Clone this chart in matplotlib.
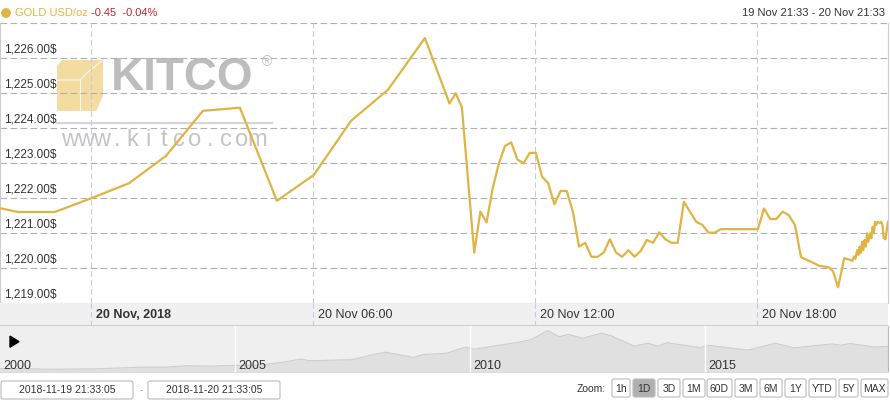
import matplotlib
matplotlib.use('Agg')
import matplotlib.pyplot as plt
from matplotlib.patches import FancyBboxPatch, Polygon, Circle
import pandas as pd

plt.rcParams['font.family'] = ['Liberation Sans', 'DejaVu Sans']

# gold price, 19 Nov 21:33 -> 20 Nov 21:33 (USD/oz)
times = ['2018-11-19 21:33', '2018-11-19 22:02', '2018-11-19 23:02',
         '2018-11-20 00:02', '2018-11-20 01:02', '2018-11-20 02:02', '2018-11-20 03:02',
         '2018-11-20 04:02', '2018-11-20 05:02', '2018-11-20 06:02', '2018-11-20 07:02',
         '2018-11-20 08:02', '2018-11-20 09:02', '2018-11-20 09:42', '2018-11-20 09:52',
         '2018-11-20 10:02', '2018-11-20 10:22', '2018-11-20 10:32', '2018-11-20 10:42',
         '2018-11-20 10:52', '2018-11-20 11:02', '2018-11-20 11:12', '2018-11-20 11:22',
         '2018-11-20 11:32', '2018-11-20 11:42', '2018-11-20 11:52', '2018-11-20 12:02',
         '2018-11-20 12:12', '2018-11-20 12:22', '2018-11-20 12:32', '2018-11-20 12:42',
         '2018-11-20 12:52', '2018-11-20 13:02', '2018-11-20 13:12', '2018-11-20 13:22',
         '2018-11-20 13:32', '2018-11-20 13:42', '2018-11-20 13:52', '2018-11-20 14:02',
         '2018-11-20 14:12', '2018-11-20 14:22', '2018-11-20 14:32', '2018-11-20 14:42',
         '2018-11-20 14:52', '2018-11-20 15:02', '2018-11-20 15:12', '2018-11-20 15:22',
         '2018-11-20 15:32', '2018-11-20 15:42', '2018-11-20 15:52', '2018-11-20 16:02',
         '2018-11-20 16:22', '2018-11-20 16:32', '2018-11-20 16:42', '2018-11-20 16:52',
         '2018-11-20 17:02', '2018-11-20 18:02', '2018-11-20 18:12', '2018-11-20 18:22',
         '2018-11-20 18:32', '2018-11-20 18:42', '2018-11-20 18:52', '2018-11-20 19:02',
         '2018-11-20 19:12', '2018-11-20 19:42', '2018-11-20 19:57', '2018-11-20 20:04',
         '2018-11-20 20:12', '2018-11-20 20:22', '2018-11-20 20:32', '2018-11-20 20:35',
         '2018-11-20 20:38', '2018-11-20 20:40', '2018-11-20 20:43', '2018-11-20 20:45',
         '2018-11-20 20:47', '2018-11-20 20:49', '2018-11-20 20:51', '2018-11-20 20:53',
         '2018-11-20 20:55', '2018-11-20 20:57', '2018-11-20 20:59', '2018-11-20 21:01',
         '2018-11-20 21:04', '2018-11-20 21:06', '2018-11-20 21:08', '2018-11-20 21:10',
         '2018-11-20 21:12', '2018-11-20 21:14', '2018-11-20 21:16', '2018-11-20 21:20',
         '2018-11-20 21:22', '2018-11-20 21:24', '2018-11-20 21:26', '2018-11-20 21:29',
         '2018-11-20 21:31', '2018-11-20 21:33']
prices = [1221.71, 1221.60, 1221.60,
          1222.00, 1222.42, 1223.20, 1224.49,
          1224.58, 1221.92, 1222.66, 1224.20,
          1225.09, 1226.57, 1224.70, 1224.99,
          1224.59, 1220.44, 1221.61, 1221.30,
          1222.28, 1222.99, 1223.49, 1223.59,
          1223.10, 1222.99, 1223.29, 1223.29,
          1222.61, 1222.42, 1221.82, 1222.20,
          1222.20, 1221.61, 1220.61, 1220.72,
          1220.32, 1220.32, 1220.44, 1220.82,
          1220.44, 1220.32, 1220.51, 1220.32,
          1220.49, 1220.80, 1220.72, 1221.02,
          1220.82, 1220.72, 1220.72, 1221.89,
          1221.32, 1221.23, 1221.01, 1221.01,
          1221.11, 1221.11, 1221.70, 1221.40,
          1221.40, 1221.61, 1221.51, 1221.23,
          1220.31, 1220.06, 1220.02, 1219.90,
          1219.45, 1220.28, 1220.23, 1220.20,
          1220.33, 1220.26, 1220.51, 1220.37,
          1220.61, 1220.43, 1220.75, 1220.51,
          1220.80, 1220.61, 1220.99, 1220.75,
          1220.99, 1220.85, 1221.18, 1220.99,
          1221.32, 1221.23, 1221.32, 1221.28,
          1221.32, 1221.23, 1220.85, 1220.82,
          1221.09, 1221.32]

y_ticks = [1219, 1220, 1221, 1222, 1223, 1224, 1225, 1226, 1227]
x_ticks = ['2018-11-20 00:00', '2018-11-20 06:00', '2018-11-20 12:00', '2018-11-20 18:00']
x_labels = ['20 Nov, 2018', '20 Nov 06:00', '20 Nov 12:00', '20 Nov 18:00']

# navigator: long-run gold price
nav_years = [2000.0, 2000.5, 2001.0, 2001.5, 2002.0, 2002.5, 2003.0, 2003.5, 2004.0, 2004.5,
             2005.0, 2005.5, 2006.0, 2006.4, 2006.6, 2007.0, 2007.5, 2008.0, 2008.2, 2008.8,
             2009.0, 2009.5, 2009.9, 2010.1, 2010.5, 2011.0, 2011.3, 2011.66, 2011.9, 2012.1,
             2012.4, 2012.8, 2013.0, 2013.5, 2013.8, 2014.0, 2014.2, 2014.9, 2015.1, 2015.9,
             2016.0, 2016.5, 2016.9, 2017.1, 2017.7, 2017.9, 2018.1, 2018.6, 2018.9]
nav_prices = [285, 290, 265, 270, 280, 315, 350, 350, 410, 395,
              425, 430, 550, 690, 620, 640, 665, 900, 975, 760,
              880, 930, 1190, 1100, 1230, 1380, 1500, 1880, 1620, 1720,
              1560, 1770, 1670, 1230, 1350, 1230, 1370, 1170, 1260, 1065,
              1100, 1350, 1160, 1200, 1320, 1270, 1340, 1190, 1225]
nav_year_ticks = [2000, 2005, 2010, 2015]

zoom_buttons = ['1h', '1D', '3D', '1M', '60D', '3M', '6M', '1Y', 'YTD', '5Y', 'MAX']
zoom_edges = [(612, 630), (633, 655), (658, 680), (683, 705), (707, 732), (735, 757),
              (760, 782), (785, 806), (809, 836), (839, 858), (861, 888)]

gold = '#dfb443'
t = pd.to_datetime(times)
t0 = pd.Timestamp('2018-11-19 21:33')
t1 = pd.Timestamp('2018-11-20 21:33')
xt = pd.to_datetime(x_ticks)

fig = plt.figure(figsize=(8.9, 4.0), dpi=100)
fig.patch.set_facecolor('white')

# pixel-space overlay for header, watermark and bottom controls
ui = fig.add_axes([0, 0, 1, 1], zorder=0)
ui.set_xlim(0, 890)
ui.set_ylim(400, 0)
ui.axis('off')

ui.add_patch(Circle((6, 13), 4.2, color=gold))
ui.text(15, 13.5, 'GOLD USD/oz', color=gold, fontsize=8, va='center')
ui.text(91, 13.5, '-0.45  -0.04%', color='#c0282d', fontsize=8, va='center')
ui.text(885, 13.5, '19 Nov 21:33 - 20 Nov 21:33', color='#333333', fontsize=8,
        va='center', ha='right')

# watermark
ui.add_patch(Polygon([(57, 66), (62, 60), (103, 60), (103, 96), (96, 111), (57, 111)],
                     closed=True, color='#f3dc9f', lw=0))
ui.plot([57, 80, 88, 103], [80, 80, 72, 60], color='white', lw=0.8, alpha=0.8)
ui.plot([80, 80], [80, 111], color='white', lw=0.8, alpha=0.8)
ui.text(111, 78, 'KITCO', color='#bdbdbd', fontsize=33, fontweight='bold',
        va='center', ha='left')
ui.text(262, 62, '®', color='#c0c0c0', fontsize=10, va='center')
ui.plot([57, 272], [122.5, 122.5], color='#d6d6d6', lw=1.6)
for i, ch in enumerate('www.kitco.com'):
    ui.text(70 + i * 15.6, 140, ch, color='#c4c4c4', fontsize=17, ha='center', va='center')

# date boxes and zoom buttons
for x0, label in [(1, '2018-11-19 21:33:05'), (148, '2018-11-20 21:33:05')]:
    ui.add_patch(FancyBboxPatch((x0, 381), 132, 18, boxstyle='round,pad=0,rounding_size=2',
                                fc='white', ec='#bbbbbb', lw=0.8))
    ui.text(x0 + 66, 390, label, fontsize=7.5, color='#333333', ha='center', va='center')
ui.text(141, 390, '-', fontsize=7.5, color='#999999', ha='center', va='center')
ui.text(606, 388.5, 'Zoom:', fontsize=7.5, color='#333333', ha='right', va='center')
for label, (a, b) in zip(zoom_buttons, zoom_edges):
    fc = '#b0b0b0' if label == '1D' else 'white'
    ui.add_patch(FancyBboxPatch((a, 379), b - a, 18, boxstyle='round,pad=0,rounding_size=2',
                                fc=fc, ec='#bbbbbb', lw=0.8))
    ui.text((a + b) / 2, 388.5, label, fontsize=7.5, color='#333333', ha='center', va='center')

# main chart
ax = fig.add_axes([0, 97 / 400, 888 / 890, 280 / 400], zorder=2)
ax.patch.set_alpha(0)
ax.plot(t, prices, color=gold, lw=1.6, solid_joinstyle='round', zorder=3)
ax.set_xlim(t0, t1)
ax.set_ylim(1219, 1227)
for v in y_ticks:
    ax.axhline(v, color='#b0b0b0', lw=0.8, ls=(0, (6, 3)), zorder=1)
for v in y_ticks[:-1]:
    ax.text(4 / 888, v + 0.06, f'{v:,.2f}$', transform=ax.get_yaxis_transform(),
            fontsize=8.5, color='#333333', va='bottom', ha='left')
for v in xt:
    ax.axvline(v, color='#c9c9e3', lw=0.8, ls=(0, (5, 3)), zorder=1)
ax.set_xticks([])
ax.set_yticks([])
for s in ['top', 'bottom']:
    ax.spines[s].set_visible(False)
for s in ['left', 'right']:
    ax.spines[s].set_color('#cccccc')
    ax.spines[s].set_linewidth(0.8)

# x label band
band = fig.add_axes([0, 74 / 400, 888 / 890, 23 / 400], zorder=2)
band.set_facecolor('#f0f0f0')
band.set_xlim(t0, t1)
band.set_ylim(0, 1)
for v, lab in zip(xt, x_labels):
    band.axvline(v, color='#c9c9e3', lw=0.8, ls=(0, (5, 3)))
    band.text(v + pd.Timedelta(minutes=8), 0.47, lab, fontsize=9, color='#333333',
              va='center', ha='left', fontweight='bold' if ',' in lab else 'normal')
band.set_xticks([])
band.set_yticks([])
for s in band.spines.values():
    s.set_visible(False)
band.axhline(0, color='#c8c8c8', lw=1.2)

# navigator
nav = fig.add_axes([0, 28 / 400, 888 / 890, 46 / 400], zorder=2)
nav.set_facecolor('#efefef')
nav.fill_between(nav_years, nav_prices, 0, color='#e0e0e0', lw=0)
nav.plot(nav_years, nav_prices, color='#cdcdcd', lw=0.8)
nav.set_xlim(2000, 2018.9)
nav.set_ylim(150, 2070)
for yr in nav_year_ticks[1:]:
    nav.axvline(yr, color='white', lw=1)
for yr in nav_year_ticks:
    nav.text(yr + 0.08, 160, str(yr), fontsize=9, color='#333333', va='bottom', ha='left')
nav.add_patch(Polygon([(10 / 888, 0.78), (10 / 888, 0.54), (19 / 888, 0.66)], closed=True,
                      color='black', transform=nav.transAxes, zorder=5))
nav.set_xticks([])
nav.set_yticks([])
for s in nav.spines.values():
    s.set_visible(False)
nav.spines['right'].set_visible(True)
nav.spines['right'].set_color('#bbbbbb')
nav.spines['bottom'].set_visible(True)
nav.spines['bottom'].set_color('#dddddd')

fig.savefig('out.png', dpi=100, facecolor='white')
